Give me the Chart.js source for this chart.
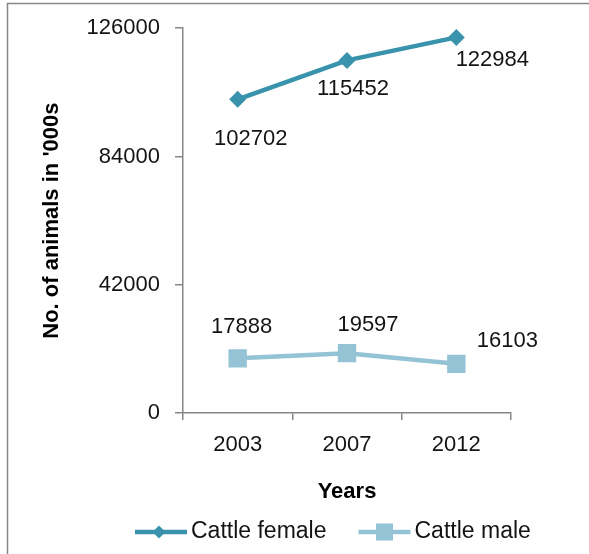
<!DOCTYPE html>
<html><head><meta charset="utf-8">
<script src="https://cdn.jsdelivr.net/npm/chart.js@4/dist/chart.umd.min.js"></script>
<style>html,body{margin:0;padding:0;background:#fff;} #wrap{width:589px;height:554px;position:relative;}</style>
</head><body><div id="wrap"><canvas id="c" width="589" height="554"></canvas></div>
<script>
const years = ['2003', '2007', '2012'];
const cattleFemale = [102702, 115452, 122984];
const cattleMale = [17888, 19597, 16103];
const seriesNames = ['Cattle female', 'Cattle male'];
const yTicks = [0, 42000, 84000, 126000];
const yTitle = "No. of animals in '000s";
const xTitle = 'Years';

const FONT = "'Liberation Sans', Arial, sans-serif";
const FEMALE = '#3a93ac';
const MALE = '#93c3d5';
const GRAY = '#868686';
const TEXT = '#141414';

// per-label placement offsets (px) relative to the point
const labelOffsets = [
  [[13, 40], [6, 29], [36, 23]],
  [[4, -31], [21, -28], [51, -23]]
];

function drawMarker(c, style, x, y, r) {
  c.beginPath();
  if (style === 'rectRot') {
    c.moveTo(x, y - r); c.lineTo(x + r, y); c.lineTo(x, y + r); c.lineTo(x - r, y);
  } else {
    c.rect(x - r, y - r, 2 * r, 2 * r);
  }
  c.closePath();
  c.fill();
}

const bgBorder = {
  id: 'bgBorder',
  beforeDraw(chart) {
    const c = chart.ctx; c.save();
    c.fillStyle = '#fff'; c.fillRect(0, 0, chart.width, chart.height);
    c.strokeStyle = GRAY; c.lineWidth = 1.5;
    c.strokeRect(7.5, 3.5, chart.width + 20, chart.height + 20);
    c.restore();
  }
};

const valueLabels = {
  id: 'valueLabels',
  afterDatasetsDraw(chart) {
    const c = chart.ctx; c.save();
    c.font = '22px ' + FONT; c.fillStyle = TEXT;
    c.textAlign = 'center'; c.textBaseline = 'middle';
    chart.data.datasets.forEach((ds, i) => {
      const meta = chart.getDatasetMeta(i);
      meta.data.forEach((pt, j) => {
        const o = labelOffsets[i][j];
        c.fillText(String(ds.data[j]), pt.x + o[0], pt.y + o[1]);
      });
    });
    c.restore();
  }
};

const lineLegend = {
  id: 'lineLegend',
  afterDraw(chart) {
    const c = chart.ctx; c.save();
    const y = 532; let x = 135;
    c.font = '23px ' + FONT; c.textBaseline = 'middle'; c.textAlign = 'left';
    chart.data.datasets.forEach((ds, i) => {
      c.strokeStyle = ds.borderColor; c.lineWidth = ds.borderWidth; c.lineCap = 'butt';
      c.beginPath(); c.moveTo(x, y); c.lineTo(x + 52, y); c.stroke();
      c.fillStyle = ds.backgroundColor;
      drawMarker(c, ds.pointStyle, x + (i === 0 ? 24 : 26), y, i === 0 ? 6.5 : 8.5);
      c.fillStyle = TEXT;
      c.fillText(ds.label, x + 56, y);
      x += 56 + c.measureText(ds.label).width + 32;
    });
    c.restore();
  }
};

new Chart(document.getElementById('c'), {
  type: 'line',
  data: {
    labels: years,
    datasets: [
      { label: seriesNames[0], data: cattleFemale, borderColor: FEMALE, backgroundColor: FEMALE,
        borderWidth: 4.5, pointStyle: 'rectRot', pointRadius: 8.5, pointHoverRadius: 8.5,
        pointBorderWidth: 0, tension: 0, fill: false },
      { label: seriesNames[1], data: cattleMale, borderColor: MALE, backgroundColor: MALE,
        borderWidth: 4.5, pointStyle: 'rect', pointRadius: 13, pointHoverRadius: 13,
        pointBorderWidth: 0, tension: 0, fill: false }
    ]
  },
  options: {
    responsive: false, animation: false, devicePixelRatio: 1,
    layout: { padding: { left: 0, top: 27, right: 78, bottom: 49 } },
    plugins: { legend: { display: false }, tooltip: { enabled: false } },
    scales: {
      x: {
        type: 'category', offset: true,
        grid: { offset: true, drawOnChartArea: false, drawTicks: true, tickLength: 7, color: GRAY, lineWidth: 1.5 },
        border: { display: true, color: GRAY, width: 1.5 },
        ticks: { font: { family: FONT, size: 22 }, color: TEXT, padding: 12, autoSkip: false, maxRotation: 0 },
        title: { display: true, text: xTitle, font: { family: FONT, size: 22, weight: 'bold' }, color: '#000', padding: { top: 0, bottom: 0 } },
        afterFit(s) { s.height = 92; }
      },
      y: {
        min: 0, max: 126000,
        afterBuildTicks(s) { s.ticks = yTicks.map(v => ({ value: v })); },
        grid: { drawOnChartArea: false, drawTicks: true, tickLength: 8, color: GRAY, lineWidth: 1.5 },
        border: { display: true, color: GRAY, width: 1.5 },
        ticks: { font: { family: FONT, size: 22 }, color: TEXT, padding: 15, callback: v => String(v) },
        title: { display: true, text: yTitle, font: { family: FONT, size: 22, weight: 'bold' }, color: '#000', padding: { top: 39, bottom: 0 } },
        afterFit(s) { s.width = 183; }
      }
    }
  },
  plugins: [bgBorder, valueLabels, lineLegend]
});
</script>
</body></html>
